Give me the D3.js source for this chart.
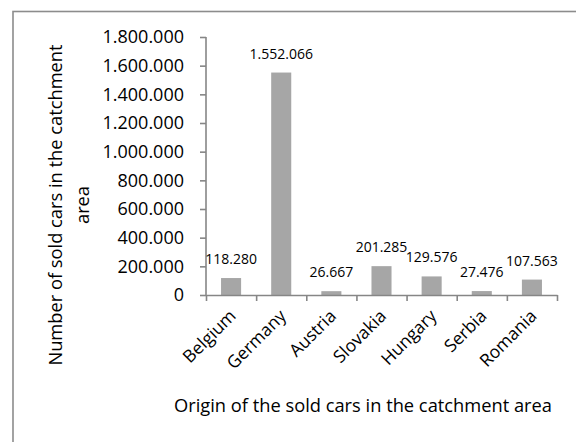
<!DOCTYPE html>
<html>
<head>
<meta charset="utf-8">
<script src="https://cdn.jsdelivr.net/npm/d3@7"></script>
<style>
  body { margin: 0; background: #fff; }
  text { font-family: "Open Sans", sans-serif; fill: #000; }
</style>
</head>
<body>
<div id="chart"></div>
<script>
// chart data
var countries = ["Belgium", "Germany", "Austria", "Slovakia", "Hungary", "Serbia", "Romania"];
var soldCars = [118280, 1552066, 26667, 201285, 129576, 27476, 107563];
var yTicks = [0, 200000, 400000, 600000, 800000, 1000000, 1200000, 1400000, 1600000, 1800000];

var width = 576, height = 442;
var plot = {left: 206, right: 557, top: 37, bottom: 295};

var svg = d3.select("#chart").append("svg")
    .attr("width", width)
    .attr("height", height);

// outer frame
svg.append("rect")
    .attr("x", 13).attr("y", 11.5)
    .attr("width", 700).attr("height", 600)
    .attr("fill", "none")
    .attr("stroke", "#8c8c8c")
    .attr("stroke-width", 1.6);

var fmt = d3.formatLocale({decimal: ",", thousands: ".", grouping: [3], currency: ["", ""]}).format(",d");

var xScale = d3.scaleBand().domain(countries)
    .range([plot.left, plot.right])
    .paddingInner(0.6).paddingOuter(0.3);
var xEdges = d3.scaleLinear().domain([0, countries.length]).range([plot.left, plot.right]);
var yScale = d3.scaleLinear().domain([0, 1800000]).range([plot.bottom, plot.top]);

// y axis
var gY = svg.append("g")
    .attr("transform", "translate(" + plot.left + ",0)")
    .call(d3.axisLeft(yScale).tickValues(yTicks).tickFormat(fmt).tickSize(6).tickPadding(16));
gY.selectAll("text").style("font-size", "18px");

// bars
svg.append("g").selectAll("rect")
    .data(countries)
  .enter().append("rect")
    .attr("x", function(d) { return xScale(d); })
    .attr("y", function(d, i) { return yScale(soldCars[i]); })
    .attr("width", xScale.bandwidth())
    .attr("height", function(d, i) { return plot.bottom - yScale(soldCars[i]); })
    .attr("fill", "#a6a6a6");

// value labels
svg.append("g").selectAll("text")
    .data(countries)
  .enter().append("text")
    .attr("x", function(d) { return xScale(d) + xScale.bandwidth() / 2; })
    .attr("y", function(d, i) { return yScale(soldCars[i]) - 14; })
    .attr("text-anchor", "middle")
    .style("font-size", "14px")
    .text(function(d, i) { return fmt(soldCars[i]); });

// x axis (ticks between categories)
var gX = svg.append("g")
    .attr("transform", "translate(0," + plot.bottom + ")")
    .call(d3.axisBottom(xEdges).tickValues(d3.range(countries.length + 1)).tickFormat("").tickSize(6).tickSizeOuter(0));

[gX, gY].forEach(function(g) {
  g.select(".domain").attr("stroke", "#868686").attr("stroke-width", 1.6);
  g.selectAll(".tick line").attr("stroke", "#868686").attr("stroke-width", 1.6);
});
gY.select(".domain").attr("d", "M0," + plot.top + "V" + plot.bottom);

// rotated category labels
svg.append("g").selectAll("text")
    .data(countries)
  .enter().append("text")
    .attr("text-anchor", "end")
    .attr("transform", function(d) {
      var cx = xScale(d) + xScale.bandwidth() / 2 + 6;
      return "translate(" + cx + "," + (plot.bottom + 22) + ") rotate(-45)";
    })
    .style("font-size", "17.5px")
    .text(function(d) { return d; });

// axis titles
svg.append("text")
    .attr("x", 363).attr("y", 412)
    .attr("text-anchor", "middle")
    .style("font-size", "18.3px")
    .text("Origin of the sold cars in the catchment area");

var yTitle = svg.append("text")
    .attr("transform", "translate(62,205) rotate(-90)")
    .attr("text-anchor", "middle")
    .style("font-size", "18.3px");
yTitle.append("tspan").attr("x", 0).attr("y", 0).text("Number of sold cars in the catchment");
yTitle.append("tspan").attr("x", 0).attr("y", 27).text("area");
</script>
</body>
</html>
